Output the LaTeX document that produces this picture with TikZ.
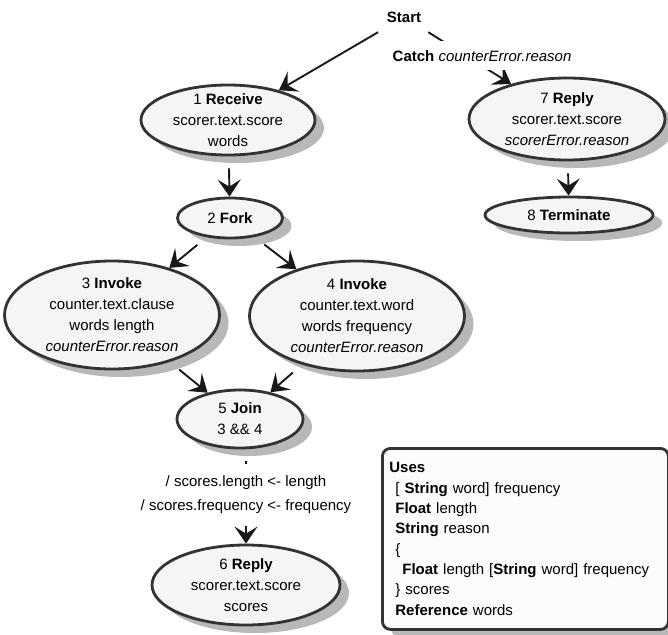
\documentclass[tikz,border=0pt]{standalone}
\usepackage{fontspec}
\setmainfont{Liberation Sans}
\usetikzlibrary{arrows.meta,shapes.geometric,shadows,backgrounds}
\begin{document}
\begin{tikzpicture}[x=1pt, y=-1pt,
  every node/.style={font=\fontsize{15}{21}\selectfont},
  state/.style 2 args={ellipse, draw=black!80, line width=2.8pt, fill=black!4,
    inner xsep=-40pt, inner ysep=-40pt, minimum width=#1, minimum height=#2, align=center,
    drop shadow={shadow xshift=9pt, shadow yshift=-8pt, fill=black!28, opacity=1}},
  startnode/.style={minimum width=60pt, minimum height=30pt, inner sep=0pt},
  usesbox/.style={rectangle, rounded corners=8pt, draw=black!80, line width=2.8pt, fill=black!1,
    text width=272pt, inner xsep=7pt, minimum height=181pt, align=left,
    font=\fontsize{15}{20.3}\selectfont,
    drop shadow={shadow xshift=9pt, shadow yshift=-8pt, fill=black!28, opacity=1}},
  flow/.style={-{Stealth[length=17pt, width=23pt, inset=7pt]}, line width=1.9pt,
    draw=black!90, shorten <=12pt},
  cut/.style={fill=white, inner xsep=3pt, align=center}]
  \useasboundingbox (0,0) rectangle (668,634);

  % activities
  \node[startnode] (start) at (404,17) {\textbf{Start}};
  \node[state={174pt}{70pt}] (n1) at (228,120) {1 \textbf{Receive}\\scorer.text.score\\words};
  \node[state={196pt}{82pt}] (n7) at (567,119) {7 \textbf{Reply}\\scorer.text.score\\\textit{scorerError.reason}};
  \node[state={105pt}{40pt}] (n2) at (230,218) {2 \textbf{Fork}};
  \node[state={168pt}{36pt}] (n8) at (569,215) {8 \textbf{Terminate}};
  \node[state={215pt}{108pt}] (n3) at (112,315) {3 \textbf{Invoke}\\counter.text.clause\\words length\\\textit{counterError.reason}};
  \node[state={215pt}{110pt}] (n4) at (357,316) {4 \textbf{Invoke}\\counter.text.word\\words frequency\\\textit{counterError.reason}};
  \node[state={126pt}{58pt}] (n5) at (240,419) {5 \textbf{Join}\\3 \&\& 4};
  \node[state={188pt}{80pt}] (n6) at (246,585) {6 \textbf{Reply}\\scorer.text.score\\scores};

  % declarations
  \node[usesbox, anchor=north west] (uses) at (381,447) {\textbf{Uses}\\
    \hspace*{6pt}[ \textbf{String} word] frequency\\
    \hspace*{6pt}\textbf{Float} length\\
    \hspace*{6pt}\textbf{String} reason\\
    \hspace*{6pt}\{\\
    \hspace*{13pt}\textbf{Float} length [\textbf{String} word] frequency\\
    \hspace*{6pt}\} scores\\
    \hspace*{6pt}\textbf{Reference} words};

  % control flow
  \begin{scope}[on background layer]
    \draw[flow, shorten <=0pt] (start) -- (n1);
    \draw[flow, shorten <=0pt] (start) -- node[cut, pos=0.65, yshift=10pt, inner ysep=9pt]
      {\textbf{Catch} \textit{counterError.reason}} (n7);
    \draw[flow] (n1) -- (n2);
    \draw[flow] (n7) -- (n8);
    \draw[flow] (n2) -- (n3);
    \draw[flow] (n2) -- (n4);
    \draw[flow] (n3) -- (n5);
    \draw[flow] (n4) -- (n5);
    \draw[flow] (n5.south -| n6) -- node[cut, pos=0.48, inner ysep=12pt]
      {/ scores.length <- length\\[3pt]/ scores.frequency <- frequency} (n6);
  \end{scope}
\end{tikzpicture}
\end{document}
